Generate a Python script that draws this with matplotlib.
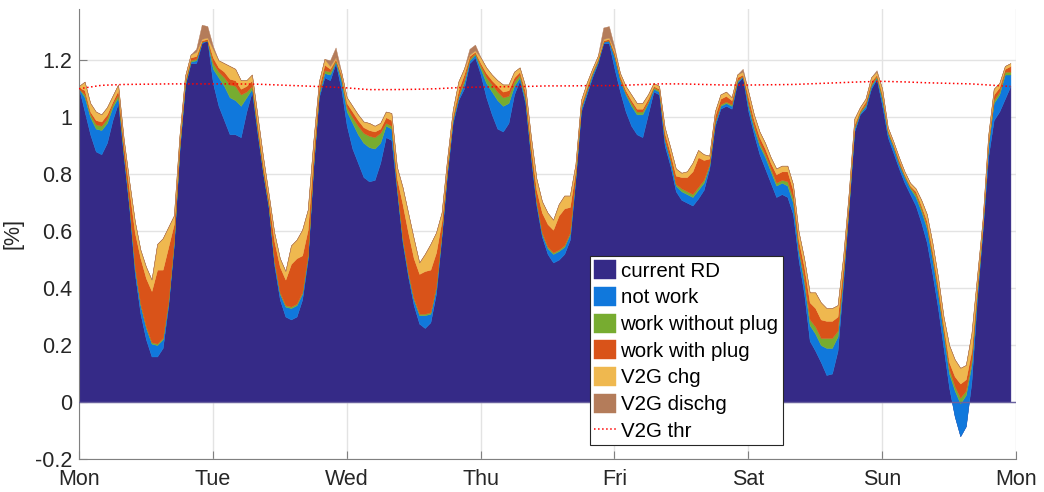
import numpy as np
import matplotlib.pyplot as plt

plt.rcParams['font.family'] = ['Liberation Sans', 'DejaVu Sans']

# hourly values over one week (Mon 00:00 .. Sun 23:00), one day per line
current_rd = [
    1.10, 1.02, 0.94, 0.88, 0.87, 0.91, 0.99, 1.05, 0.86, 0.68, 0.45, 0.31, 0.22, 0.16, 0.16, 0.19, 0.34, 0.55, 0.88, 1.11, 1.19, 1.19, 1.26, 1.27,
    1.12, 1.04, 0.99, 0.94, 0.94, 0.93, 1.02, 1.09, 0.94, 0.80, 0.68, 0.48, 0.36, 0.30, 0.29, 0.30, 0.36, 0.50, 0.82, 1.07, 1.14, 1.13, 1.19, 1.10,
    0.97, 0.89, 0.84, 0.79, 0.775, 0.78, 0.84, 0.93, 0.92, 0.74, 0.56, 0.44, 0.34, 0.275, 0.26, 0.28, 0.38, 0.58, 0.80, 0.98, 1.06, 1.10, 1.19, 1.21,
    1.15, 1.07, 1.01, 0.96, 0.95, 0.98, 1.08, 1.13, 1.05, 0.86, 0.69, 0.58, 0.52, 0.49, 0.50, 0.52, 0.57, 0.78, 1.02, 1.08, 1.14, 1.19, 1.26, 1.26,
    1.17, 1.09, 1.02, 0.97, 0.94, 0.93, 1.01, 1.09, 1.08, 0.90, 0.83, 0.74, 0.71, 0.70, 0.69, 0.715, 0.745, 0.82, 0.97, 1.03, 1.04, 1.03, 1.12, 1.14,
    1.02, 0.94, 0.87, 0.82, 0.77, 0.72, 0.73, 0.72, 0.66, 0.50, 0.38, 0.215, 0.18, 0.14, 0.095, 0.10, 0.18, 0.42, 0.68, 0.95, 1.01, 1.03, 1.10, 1.135,
    1.04, 0.93, 0.875, 0.82, 0.77, 0.73, 0.69, 0.63, 0.56, 0.45, 0.33, 0.19, 0.05, -0.05, -0.12, -0.085, 0.07, 0.36, 0.60, 0.86, 0.99, 1.02, 1.065, 1.11,
]
not_work = [
    0.0, 0.05, 0.06, 0.08, 0.085, 0.07, 0.045, 0.02, 0.01, 0.01, 0.02, 0.03, 0.04, 0.045, 0.04, 0.03, 0.01, 0.01, 0.01, 0.005, 0.005, 0.01, 0.005, 0.0,
    0.05, 0.10, 0.12, 0.13, 0.12, 0.11, 0.05, 0.01, 0.01, 0.005, 0.005, 0.01, 0.02, 0.035, 0.04, 0.04, 0.02, 0.01, 0.01, 0.01, 0.015, 0.02, 0.005, 0.03,
    0.05, 0.09, 0.10, 0.12, 0.12, 0.11, 0.07, 0.04, 0.04, 0.01, 0.01, 0.01, 0.02, 0.03, 0.045, 0.03, 0.02, 0.01, 0.01, 0.01, 0.01, 0.02, 0.01, 0.01,
    0.02, 0.05, 0.08, 0.10, 0.09, 0.07, 0.03, 0.01, 0.01, 0.01, 0.01, 0.01, 0.02, 0.03, 0.03, 0.025, 0.02, 0.01, 0.01, 0.01, 0.01, 0.005, 0.005, 0.01,
    0.04, 0.04, 0.06, 0.07, 0.07, 0.08, 0.04, 0.01, 0.01, 0.02, 0.02, 0.02, 0.03, 0.03, 0.03, 0.03, 0.025, 0.01, 0.01, 0.01, 0.01, 0.01, 0.005, 0.005,
    0.02, 0.02, 0.03, 0.04, 0.04, 0.04, 0.04, 0.04, 0.04, 0.03, 0.04, 0.055, 0.06, 0.06, 0.095, 0.09, 0.05, 0.02, 0.01, 0.01, 0.005, 0.01, 0.01, 0.005,
    0.02, 0.015, 0.02, 0.015, 0.02, 0.02, 0.03, 0.04, 0.05, 0.05, 0.05, 0.05, 0.05, 0.09, 0.115, 0.11, 0.06, 0.02, 0.01, 0.04, 0.06, 0.06, 0.085, 0.04,
]
work_no_plug = [
    0.0, 0.01, 0.01, 0.015, 0.015, 0.015, 0.01, 0.01, 0.005, 0.005, 0.005, 0.005, 0.005, 0.005, 0.005, 0.005, 0.005, 0.005, 0.005, 0.005, 0.005, 0.005, 0.0, 0.0,
    0.02, 0.02, 0.03, 0.045, 0.05, 0.04, 0.02, 0.01, 0.005, 0.005, 0.005, 0.005, 0.005, 0.005, 0.005, 0.005, 0.005, 0.005, 0.005, 0.005, 0.01, 0.01, 0.005, 0.01,
    0.015, 0.02, 0.03, 0.035, 0.04, 0.04, 0.035, 0.01, 0.01, 0.005, 0.005, 0.005, 0.005, 0.005, 0.005, 0.005, 0.005, 0.005, 0.005, 0.005, 0.005, 0.01, 0.005, 0.005,
    0.01, 0.02, 0.025, 0.03, 0.03, 0.025, 0.015, 0.01, 0.01, 0.005, 0.005, 0.005, 0.005, 0.005, 0.005, 0.005, 0.005, 0.005, 0.005, 0.005, 0.005, 0.005, 0.0, 0.0,
    0.005, 0.005, 0.005, 0.01, 0.01, 0.01, 0.005, 0.005, 0.005, 0.005, 0.005, 0.005, 0.01, 0.01, 0.01, 0.01, 0.01, 0.005, 0.005, 0.005, 0.005, 0.005, 0.005, 0.0,
    0.01, 0.01, 0.01, 0.01, 0.01, 0.01, 0.01, 0.015, 0.015, 0.01, 0.015, 0.02, 0.025, 0.025, 0.035, 0.035, 0.02, 0.01, 0.005, 0.005, 0.005, 0.005, 0.005, 0.005,
    0.01, 0.005, 0.005, 0.005, 0.005, 0.005, 0.01, 0.01, 0.01, 0.01, 0.01, 0.01, 0.015, 0.015, 0.02, 0.015, 0.015, 0.01, 0.005, 0.005, 0.01, 0.01, 0.01, 0.01,
]
work_plug = [
    0.005, 0.015, 0.01, 0.015, 0.015, 0.015, 0.01, 0.015, 0.03, 0.05, 0.12, 0.16, 0.17, 0.18, 0.26, 0.24, 0.19, 0.06, 0.02, 0.01, 0.01, 0.01, 0.005, 0.005,
    0.02, 0.015, 0.02, 0.02, 0.02, 0.02, 0.02, 0.02, 0.02, 0.02, 0.02, 0.07, 0.09, 0.09, 0.15, 0.16, 0.13, 0.09, 0.04, 0.02, 0.02, 0.01, 0.005, 0.01,
    0.015, 0.02, 0.02, 0.02, 0.02, 0.02, 0.015, 0.02, 0.02, 0.03, 0.12, 0.14, 0.14, 0.14, 0.15, 0.15, 0.12, 0.04, 0.02, 0.01, 0.02, 0.02, 0.01, 0.005,
    0.01, 0.015, 0.015, 0.02, 0.02, 0.02, 0.015, 0.01, 0.02, 0.03, 0.04, 0.07, 0.08, 0.08, 0.12, 0.13, 0.09, 0.02, 0.01, 0.01, 0.005, 0.005, 0.005, 0.005,
    0.01, 0.01, 0.01, 0.01, 0.01, 0.01, 0.01, 0.005, 0.005, 0.02, 0.02, 0.03, 0.04, 0.05, 0.08, 0.105, 0.07, 0.02, 0.02, 0.02, 0.02, 0.015, 0.01, 0.005,
    0.02, 0.02, 0.02, 0.02, 0.02, 0.03, 0.03, 0.035, 0.03, 0.03, 0.04, 0.06, 0.065, 0.065, 0.06, 0.06, 0.05, 0.03, 0.02, 0.01, 0.005, 0.01, 0.01, 0.005,
    0.01, 0.005, 0.005, 0.01, 0.005, 0.005, 0.01, 0.01, 0.015, 0.02, 0.02, 0.02, 0.025, 0.035, 0.05, 0.04, 0.035, 0.02, 0.01, 0.01, 0.02, 0.015, 0.01, 0.02,
]
v2g_chg = [
    0.005, 0.03, 0.03, 0.03, 0.025, 0.025, 0.02, 0.02, 0.02, 0.03, 0.04, 0.03, 0.04, 0.04, 0.09, 0.11, 0.07, 0.03, 0.02, 0.015, 0.01, 0.015, 0.005, 0.005,
    0.03, 0.025, 0.03, 0.045, 0.04, 0.03, 0.02, 0.02, 0.03, 0.03, 0.02, 0.03, 0.03, 0.03, 0.065, 0.065, 0.09, 0.07, 0.04, 0.02, 0.02, 0.01, 0.005, 0.01,
    0.02, 0.02, 0.02, 0.02, 0.025, 0.02, 0.02, 0.02, 0.025, 0.04, 0.06, 0.07, 0.07, 0.04, 0.06, 0.09, 0.07, 0.03, 0.02, 0.02, 0.03, 0.02, 0.005, 0.005,
    0.02, 0.02, 0.02, 0.02, 0.025, 0.02, 0.02, 0.015, 0.02, 0.03, 0.04, 0.04, 0.04, 0.035, 0.04, 0.045, 0.04, 0.02, 0.015, 0.015, 0.01, 0.01, 0.005, 0.005,
    0.01, 0.01, 0.015, 0.02, 0.02, 0.02, 0.015, 0.01, 0.01, 0.02, 0.02, 0.025, 0.015, 0.02, 0.03, 0.025, 0.02, 0.01, 0.015, 0.015, 0.015, 0.01, 0.01, 0.01,
    0.02, 0.02, 0.02, 0.02, 0.02, 0.02, 0.02, 0.02, 0.02, 0.03, 0.03, 0.035, 0.055, 0.06, 0.045, 0.045, 0.04, 0.03, 0.02, 0.02, 0.01, 0.01, 0.015, 0.01,
    0.02, 0.01, 0.01, 0.01, 0.01, 0.01, 0.01, 0.02, 0.025, 0.03, 0.03, 0.03, 0.06, 0.06, 0.055, 0.05, 0.06, 0.03, 0.015, 0.02, 0.02, 0.015, 0.01, 0.01,
]
v2g_dischg = [
    0, 0, 0, 0, 0, 0, 0, 0, 0, 0, 0, 0, 0, 0, 0, 0, 0, 0, 0, 0, 0, 0.01, 0.05, 0.04,
    0.01, 0, 0, 0, 0, 0, 0, 0, 0, 0, 0, 0, 0, 0, 0, 0, 0, 0, 0, 0, 0, 0.02, 0.035, 0,
    0, 0, 0, 0, 0, 0, 0, 0, 0, 0, 0, 0, 0, 0, 0, 0, 0, 0, 0, 0, 0, 0, 0.02, 0.02,
    0, 0, 0, 0, 0, 0, 0, 0, 0, 0, 0, 0, 0, 0, 0, 0, 0, 0, 0, 0, 0, 0, 0.04, 0.04,
    0.01, 0, 0, 0, 0, 0, 0, 0, 0, 0, 0, 0, 0, 0, 0, 0, 0, 0, 0, 0, 0, 0, 0, 0.01,
    0, 0, 0, 0, 0, 0, 0, 0, 0, 0, 0, 0, 0, 0, 0, 0, 0, 0, 0, 0, 0, 0, 0, 0.005,
    0, 0, 0, 0, 0, 0, 0, 0, 0, 0, 0, 0, 0, 0, 0, 0, 0, 0, 0, 0, 0, 0, 0, 0,
]

# V2G threshold, read every 4 hours
thr_hours = [0, 4, 8, 12, 16, 20, 24, 28, 32, 36, 40, 44, 48, 52, 56, 60, 64, 68, 72, 76, 80, 84,
             88, 92, 96, 100, 104, 108, 112, 116, 120, 124, 128, 132, 136, 140, 144, 148, 152, 156, 160, 164, 167]
v2g_thr = [1.100, 1.112, 1.115, 1.116, 1.117, 1.117, 1.117, 1.117, 1.116, 1.113, 1.110, 1.107, 1.103, 1.097,
           1.097, 1.098, 1.100, 1.104, 1.106, 1.107, 1.108, 1.110, 1.110, 1.111, 1.111, 1.114, 1.117, 1.117,
           1.115, 1.113, 1.113, 1.114, 1.115, 1.118, 1.121, 1.124, 1.126, 1.124, 1.121, 1.119, 1.117, 1.112, 1.108]

labels = ['current RD', 'not work', 'work without plug', 'work with plug', 'V2G chg', 'V2G dischg']
colors = ['#352A87', '#1078DC', '#77AC30', '#D95319', '#EFB84F', '#B47C5A']
day_names = ['Mon', 'Tue', 'Wed', 'Thu', 'Fri', 'Sat', 'Sun', 'Mon']

hours = np.arange(len(current_rd))
layers = [current_rd, not_work, work_no_plug, work_plug, v2g_chg, v2g_dischg]

fig = plt.figure(figsize=(10.44, 4.92), dpi=100)
ax = fig.add_axes([0.0757, 0.0671, 0.8975, 0.9146])

# stacked areas, like MATLAB area()
lower = np.zeros(len(hours))
handles = []
for vals, col, lab in zip(layers, colors, labels):
    upper = lower + np.array(vals)
    h = ax.fill_between(hours, lower, upper, facecolor=col, edgecolor=col,
                        linewidth=0.3, label=lab, zorder=2)
    handles.append(h)
    lower = upper

ax.axhline(0, color='#6a62a0', lw=1, zorder=3)
thr_line, = ax.plot(thr_hours, v2g_thr, ':', color='red', lw=1.1, label='V2G thr', zorder=4)
handles.append(thr_line)

ax.set_xlim(0, 168)
ax.set_ylim(-0.2, 1.38)
ax.set_xticks(np.arange(0, 169, 24))
ax.set_xticklabels(day_names)
yt = np.arange(-0.2, 1.21, 0.2)
ax.set_yticks(yt)
ax.set_yticklabels(['-0.2', '0', '0.2', '0.4', '0.6', '0.8', '1', '1.2'])
ax.set_ylabel('[%]', fontsize=15.5, color='#262626', labelpad=8)

ax.grid(True, color='#e3e3e3', lw=1)
ax.set_axisbelow(True)
for s in ['top', 'right']:
    ax.spines[s].set_visible(False)
for s in ['left', 'bottom']:
    ax.spines[s].set_color('#808080')
ax.tick_params(direction='in', length=6, color='#808080', labelsize=15.5, labelcolor='#262626')
ax.tick_params(axis='x', pad=7)
ax.tick_params(axis='y', pad=5)

leg = ax.legend(handles=handles, loc='lower left', bbox_to_anchor=(0.545, 0.031),
                fontsize=14.8, frameon=True, fancybox=False, framealpha=1,
                edgecolor='#262626', borderaxespad=0, borderpad=0.2,
                labelspacing=0.3, handlelength=1.1, handleheight=1.05, handletextpad=0.2)
leg.get_frame().set_linewidth(0.8)
leg.set_zorder(5)

fig.savefig('out.png', dpi=100)
